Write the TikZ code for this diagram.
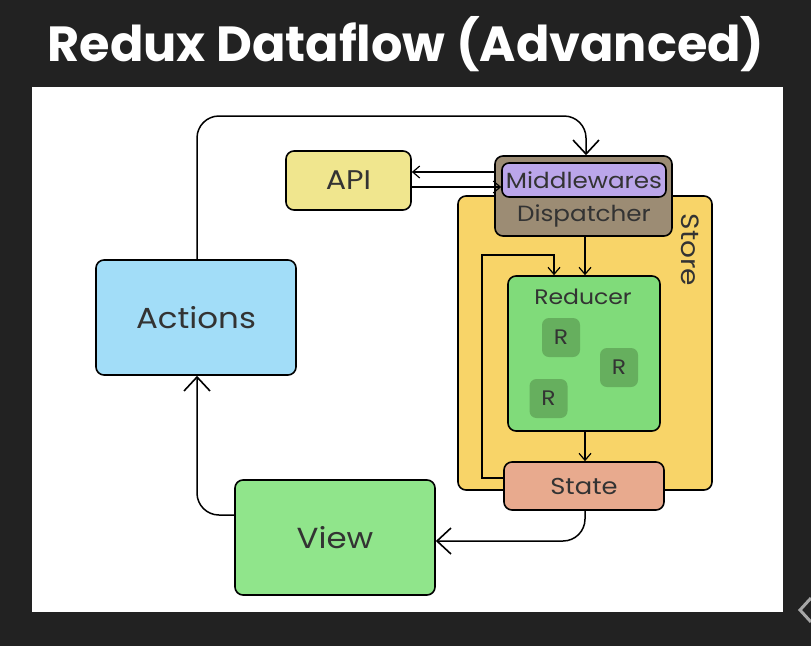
\documentclass[tikz,border=0pt]{standalone}
\usepackage{fontspec}
\usepackage{graphicx}
\setmainfont{Poppins}[FakeStretch=1.12]
\newfontfamily\titlefont{Poppins}
\usetikzlibrary{arrows.meta}
\definecolor{bgdark}{HTML}{222222}
\definecolor{actfill}{HTML}{A2DDF8}
\definecolor{viewfill}{HTML}{90E58B}
\definecolor{apifill}{HTML}{F0E68E}
\definecolor{dispfill}{HTML}{9C8C74}
\definecolor{midfill}{HTML}{BBA6EA}
\definecolor{storefill}{HTML}{F8D468}
\definecolor{redfill}{HTML}{80DB7A}
\definecolor{rfill}{HTML}{66AF5E}
\definecolor{statefill}{HTML}{E8AA8E}
\definecolor{txt}{HTML}{333333}
\begin{document}
\begin{tikzpicture}[x=1pt,y=-1pt,
  box/.style={draw=black,line width=1.6pt,rounded corners=8pt,text=txt,inner sep=0pt},
  conn/.style={draw=black,line width=1.5pt,rounded corners=22pt},
  bigtip/.style={-{Straight Barb[length=14pt,width=26pt,line width=1.6pt]}},
  smalltip/.style={-{Straight Barb[length=7pt,width=12pt,line width=1.2pt]}},
  lbl/.style={text=txt,inner sep=0pt}]
\useasboundingbox (0,0) rectangle (811,646);
\fill[bgdark] (0,0) rectangle (811,646);
\fill[white] (32,87) rectangle (783,612);
\draw[gray!70,line width=3pt] (811,598) -- (800,610) -- (811,622);
\node[text=white,inner sep=0pt] (title) at (406,44) {\resizebox{717pt}{!}{\titlefont\fontseries{sb}\selectfont\fontsize{40}{44}\selectfont Redux Dataflow (Advanced)}};
% store
\node[box,fill=storefill,minimum width=254pt,minimum height=294pt] (store) at (585,343) {};
\node[lbl,rotate=-90,font=\fontsize{25}{28}\selectfont] (storelbl) at (690,250) {Store};
% dispatcher
\node[box,fill=dispfill,minimum width=177pt,minimum height=80pt] (disp) at (583.5,196) {};
\node[lbl,font=\fontsize{22}{24}\selectfont] (displbl) at (584,216) {Dispatcher};
\node[box,fill=midfill,minimum width=164pt,minimum height=34pt,rounded corners=7pt] (mid) at (584,180) {\fontsize{22}{24}\selectfont Middlewares};
% API
\node[box,fill=apifill,minimum width=125pt,minimum height=59pt] (api) at (348.5,180.5) {\fontsize{27}{30}\selectfont API};
% Actions, View
\node[box,fill=actfill,minimum width=200pt,minimum height=115pt] (act) at (196,317.5) {\fontsize{29}{32}\selectfont Actions};
\node[box,fill=viewfill,minimum width=200pt,minimum height=115pt] (view) at (335,537.5) {\fontsize{29}{32}\selectfont View};
% reducer
\node[box,fill=redfill,minimum width=152pt,minimum height=155pt] (red) at (584,353.5) {};
\node[lbl,font=\fontsize{21}{24}\selectfont] (redlbl) at (583,297) {Reducer};
\node[fill=rfill,rounded corners=7pt,minimum width=38pt,minimum height=39pt,text=txt,inner sep=0pt] (r1) at (561,337.5) {\fontsize{21}{22}\selectfont R};
\node[fill=rfill,rounded corners=7pt,minimum width=38pt,minimum height=39pt,text=txt,inner sep=0pt] (r2) at (619,367.5) {\fontsize{21}{22}\selectfont R};
\node[fill=rfill,rounded corners=7pt,minimum width=38pt,minimum height=39pt,text=txt,inner sep=0pt] (r3) at (548.5,398.5) {\fontsize{21}{22}\selectfont R};
% state
\node[box,fill=statefill,minimum width=160pt,minimum height=48pt] (state) at (584,486) {\fontsize{23}{24}\selectfont State};
% connectors
\coordinate (c1) at (197,116);
\coordinate (c2) at (586,116);
\draw[conn,bigtip] (act.north -| c1) -- (c1) -- (c2) -- (c2 |- disp.north);
\coordinate (c3) at (197,515);
\draw[conn,bigtip] (view.west |- c3) -- (c3) -- (c3 |- act.south);
\coordinate (c4) at (585,541);
\draw[conn,bigtip] (state.south -| c4) -- (c4) -- (c4 -| view.east);
\coordinate (a1) at (0,172);
\coordinate (a2) at (0,187);
\draw[line width=1.5pt,smalltip] (a1 -| disp.west) -- (a1 -| api.east);
\draw[line width=1.5pt,smalltip] (a2 -| api.east) -- (a2 -| mid.west);
\draw[line width=1.5pt,smalltip] (disp.south -| c4) -- (red.north -| c4);
\draw[line width=1.5pt,smalltip] (red.south -| c4) -- (state.north -| c4);
\coordinate (l1) at (482,478);
\coordinate (l2) at (482,255);
\coordinate (l3) at (554,255);
\draw[line width=1.5pt,smalltip] (state.west |- l1) -- (l1) -- (l2) -- (l3) -- (l3 |- red.north);
\end{tikzpicture}
\end{document}
